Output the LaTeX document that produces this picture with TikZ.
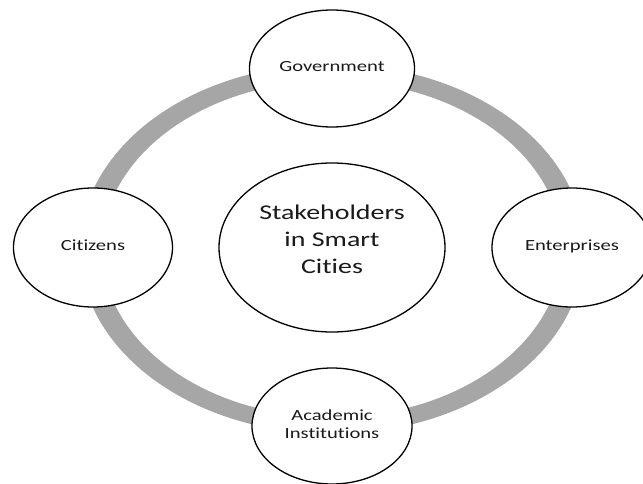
\documentclass[tikz,border=0pt]{standalone}
\usepackage{graphicx}
\usepackage{fontspec}
\setmainfont{Carlito}[Ligatures={NoCommon}]
\usetikzlibrary{shapes.geometric}
\definecolor{ringgray}{HTML}{A6A6A6}
\definecolor{txtgray}{HTML}{1A1A1A}
\newcommand{\wtxt}[1]{\scalebox{1.33}[1]{\begin{tabular}{@{}c@{}}#1\end{tabular}}}
\tikzset{
  stake/.style={ellipse, draw=black, line width=1.3pt, fill=white, inner sep=0pt,
    text=txtgray, font=\fontsize{15.5}{17.5}\selectfont},
  hub/.style={ellipse, draw=black, line width=1.3pt, fill=white, inner sep=0pt,
    text=txtgray, font=\fontsize{21}{27}\selectfont},
  ring/.style={fill=ringgray, even odd rule, draw=none}
}
\begin{document}
\begin{tikzpicture}[x=1pt,y=-1pt]
\useasboundingbox (0,0) rectangle (643,484);
\coordinate (ringc) at (332,249);
\fill[ring] (ringc) ellipse [x radius=252, y radius=184.8]
            (ringc) ellipse [x radius=230, y radius=168.2];
\node[hub, minimum width=226pt, minimum height=169pt] (hubnode) at (332,247.5) {};
\node[text=txtgray, font=\fontsize{21}{27}\selectfont, inner sep=0pt] (hubtext) at (332,241) {\wtxt{Stakeholders\\in Smart\\Cities}};
\node[stake, minimum width=165pt, minimum height=117pt] (gov) at (332,68.5) {\wtxt{Government}};
\node[stake, minimum width=159pt, minimum height=119pt] (cit) at (93,247.5) {\wtxt{Citizens}};
\node[stake, minimum width=160pt, minimum height=119pt] (ent) at (572,247.5) {\wtxt{Enterprises}};
\node[stake, minimum width=160pt, minimum height=116pt] (acad) at (332,426) {\wtxt{Academic\\Institutions}};
\end{tikzpicture}
\end{document}
